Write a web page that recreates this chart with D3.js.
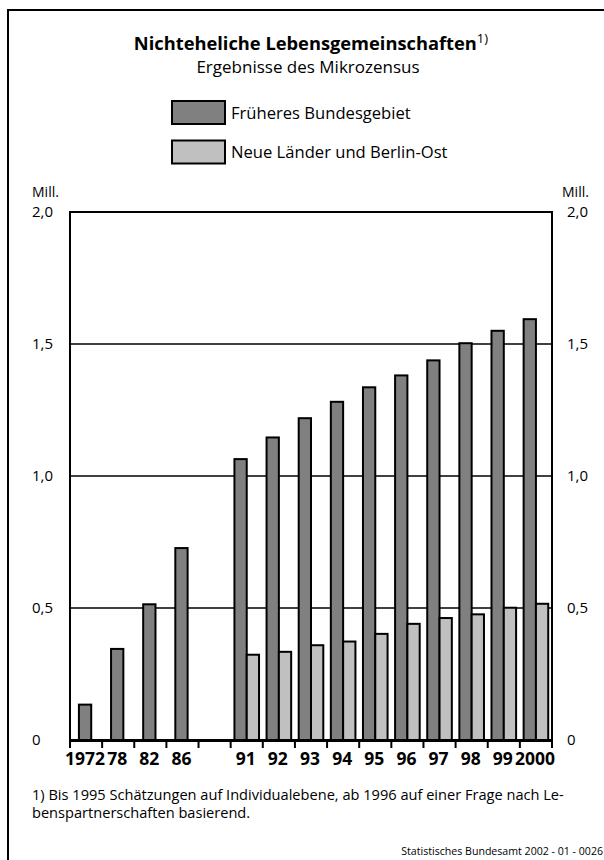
<!DOCTYPE html>
<html><head><meta charset="utf-8">
<script src="https://cdn.jsdelivr.net/npm/d3@7"></script>
<style>body{margin:0;background:#fff}svg{display:block}</style>
</head><body>
<svg id="c" width="604" height="860"></svg>
<script>
const categories = ["1972","78","82","86","","91","92","93","94","95","96","97","98","99","2000"];
const westValues = [0.134,0.345,0.514,0.727,null,1.064,1.146,1.219,1.281,1.336,1.381,1.438,1.503,1.550,1.594];
const eastValues = [null,null,null,null,null,0.323,0.334,0.359,0.373,0.402,0.440,0.462,0.476,0.501,0.516];
const yTickValues = [0,0.5,1.0,1.5,2.0];
const yTickLabels = ["0","0,5","1,0","1,5","2,0"];
const seriesNames = ["Früheres Bundesgebiet","Neue Länder und Berlin-Ost"];
const seriesColors = ["#808080","#c0c0c0"];

const FONT = "'Open Sans', 'Liberation Sans', sans-serif";
const svg = d3.select("#c").style("font-family", FONT);

const L = 70, R = 552, T = 212, B = 740;
const x = d3.scaleBand().domain(categories).range([L, R]).padding(0);
const y = d3.scaleLinear().domain([0, 2]).range([B, T]);
const bw = x.bandwidth();
const barW = 12.3;

// outer frame (clipped by page)
svg.append("rect").attr("x", 8).attr("y", 10).attr("width", 700).attr("height", 900)
  .attr("fill", "none").attr("stroke", "#000").attr("stroke-width", 2);

// title
const title = svg.append("text").attr("x", 311).attr("y", 50).attr("text-anchor", "middle")
  .attr("font-size", 18.3).attr("font-weight", "bold").attr("fill", "#000");
title.append("tspan").text("Nichteheliche Lebensgemeinschaften");
title.append("tspan").attr("dy", -7).attr("font-size", 13).attr("font-weight", "normal").text("1)");
svg.append("text").attr("x", 308).attr("y", 73).attr("text-anchor", "middle")
  .attr("font-size", 17).text("Ergebnisse des Mikrozensus");

// legend
seriesNames.forEach((n, i) => {
  const yy = 101 + i * 39.5;
  svg.append("rect").attr("x", 172).attr("y", yy).attr("width", 53).attr("height", 23)
    .attr("fill", seriesColors[i]).attr("stroke", "#000").attr("stroke-width", 2);
  svg.append("text").attr("x", 231).attr("y", yy + 17.5).attr("font-size", 16.6).text(n);
});

// Mill.
svg.append("text").attr("x", 32).attr("y", 197).attr("font-size", 14).text("Mill.");
svg.append("text").attr("x", 562).attr("y", 197).attr("font-size", 14).text("Mill.");

// gridlines
svg.append("g").selectAll("line").data(yTickValues.filter(v => v > 0 && v < 2)).join("line")
  .attr("x1", L).attr("x2", R).attr("y1", d => y(d)).attr("y2", d => y(d))
  .attr("stroke", "#000").attr("stroke-width", 1.5);
svg.append("line").attr("x1", L - 1).attr("x2", R + 1).attr("y1", y(2)).attr("y2", y(2))
  .attr("stroke", "#000").attr("stroke-width", 2);
svg.append("line").attr("x1", L).attr("x2", L).attr("y1", y(2)).attr("y2", y(0))
  .attr("stroke", "#000").attr("stroke-width", 2);
svg.append("line").attr("x1", R).attr("x2", R).attr("y1", y(2)).attr("y2", y(0))
  .attr("stroke", "#000").attr("stroke-width", 2);

// y labels
yTickValues.forEach((v, i) => {
  svg.append("text").attr("x", 32).attr("y", y(v)).attr("dy", "0.36em").attr("font-size", 15).text(yTickLabels[i]);
  svg.append("text").attr("x", 567).attr("y", y(v)).attr("dy", "0.36em").attr("font-size", 15).text(yTickLabels[i]);
});

// bars
const bars = svg.append("g").attr("stroke", "#000").attr("stroke-width", 2);
categories.forEach((c, i) => {
  const cx = x(c) + bw / 2;
  const w = westValues[i], e = eastValues[i];
  if (w != null && e != null) {
    bars.append("rect").attr("x", cx - barW).attr("y", y(w)).attr("width", barW).attr("height", y(0) - y(w)).attr("fill", seriesColors[0]);
    bars.append("rect").attr("x", cx).attr("y", y(e)).attr("width", barW).attr("height", y(0) - y(e)).attr("fill", seriesColors[1]);
  } else if (w != null) {
    bars.append("rect").attr("x", cx - barW / 2 - 1).attr("y", y(w)).attr("width", barW).attr("height", y(0) - y(w)).attr("fill", seriesColors[0]);
  }
});

// bottom axis
svg.append("line").attr("x1", L - 1).attr("x2", R + 1).attr("y1", y(0) + 0.5).attr("y2", y(0) + 0.5)
  .attr("stroke", "#000").attr("stroke-width", 3);
const bounds = categories.map(c => x(c)).concat([R]);
svg.append("g").selectAll("line").data(bounds).join("line")
  .attr("x1", d => d).attr("x2", d => d).attr("y1", y(0)).attr("y2", y(0) + 8)
  .attr("stroke", "#000").attr("stroke-width", 2);
svg.append("g").selectAll("text").data(categories).join("text")
  .attr("x", d => x(d) + bw / 2 - 1).attr("y", 765).attr("text-anchor", "middle")
  .attr("font-size", 17.5).attr("font-weight", "bold").text(d => d);

// footnote
svg.append("text").attr("x", 32).attr("y", 800).attr("font-size", 14.6)
  .text("1) Bis 1995 Schätzungen auf Individualebene, ab 1996 auf einer Frage nach Le-");
svg.append("text").attr("x", 32).attr("y", 818).attr("font-size", 14.6)
  .text("benspartnerschaften basierend.");
svg.append("text").attr("x", 603).attr("y", 855).attr("text-anchor", "end").attr("font-size", 10.6)
  .text("Statistisches Bundesamt 2002 - 01 - 0026");
</script>
</body></html>
